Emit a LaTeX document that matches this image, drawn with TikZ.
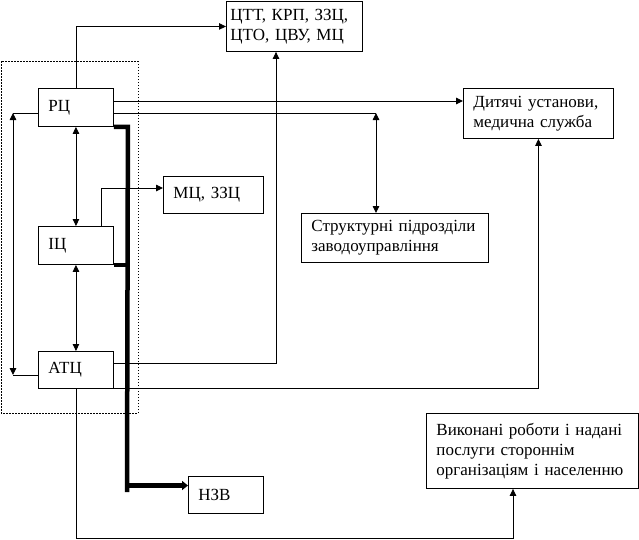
\documentclass[tikz,border=0pt]{standalone}
\usepackage{fontspec}
\setmainfont{Liberation Serif}
\usetikzlibrary{arrows.meta,calc}
\begin{document}
\begin{tikzpicture}[x=1pt,y=-1pt,
  bx/.style={draw,line width=0.9pt,rectangle,anchor=north west,align=left,inner ysep=0pt,inner xsep=10pt,
    font=\fontsize{17}{20}\selectfont},
  ln/.style={line width=0.9pt},
  arr/.style={ln,-{Triangle[length=7pt,width=6.5pt]}},
  darr/.style={ln,{Triangle[length=7pt,width=6.5pt]}-{Triangle[length=7pt,width=6.5pt]}},
  heavy/.style={line width=4.5pt},
  grp/.style={line width=0.8pt,dash pattern=on 1.5pt off 1.5pt}]
\useasboundingbox (0,0) rectangle (639,539);
% group
\draw[grp] (1,61) rectangle (138,413);
% boxes
\node[bx,inner xsep=4pt,minimum width=136pt,minimum height=50pt,text width=128pt] (ctt) at (226,1) {ЦТТ, КРП, ЗЗЦ,\\ЦТО, ЦВУ, МЦ};
\node[bx,minimum width=75pt,minimum height=38pt,text width=55pt] (rc) at (38,88) {РЦ};
\node[bx,minimum width=75pt,minimum height=38pt,text width=55pt] (ic) at (38,226) {ІЦ};
\node[bx,minimum width=75pt,minimum height=37pt,text width=55pt] (atc) at (38,351) {АТЦ};
\node[bx,minimum width=100pt,minimum height=37pt,text width=80pt] (mc) at (163,176) {МЦ, ЗЗЦ};
\node[bx,minimum width=187pt,minimum height=49pt,text width=167pt] (str) at (301,213) {Структурні підрозділи\\заводоуправління};
\node[bx,minimum width=150pt,minimum height=50pt,text width=130pt] (dyt) at (463,88) {Дитячі установи,\\медична служба};
\node[bx,minimum width=212pt,minimum height=75pt,text width=192pt] (vyk) at (426,413) {Виконані роботи і надані\\послуги стороннім\\організаціям і населенню};
\node[bx,minimum width=75pt,minimum height=37pt,text width=55pt] (nzv) at (188,476) {НЗВ};
% helper coordinates
\coordinate (rcA) at ($(rc.north east)+(0,13)$);
\coordinate (rcB) at ($(rc.north east)+(0,25)$);
\coordinate (rcL) at ($(rc.north west)+(0,25)$);
\coordinate (strT) at ($(str.north west)+(75,0)$);
\coordinate (strC) at (strT |- rcB);
\coordinate (lpT) at (13,113);
\coordinate (lpB) at (13,375);
\coordinate (atcL) at (atc.west |- lpB);
\coordinate (icT) at ($(ic.north east)+(-12,0)$);
\coordinate (mcA) at (icT |- 0,188);
\coordinate (atcA) at ($(atc.north east)+(0,12)$);
\coordinate (cttB) at ($(ctt.south west)+(50,0)$);
\coordinate (low) at ($(atc.south)+(0,150)$);
\coordinate (vykB) at ($(vyk.south west)+(87,0)$);
\coordinate (hvA) at ($(rc.south east)+(14,0)$);
\coordinate (hvB) at (127,492);
\coordinate (hvC) at (127,485.5);
\coordinate (hvI) at ($(ic.south east)+(14,0)$);
% connectors
\draw[arr] (rc.north) |- (ctt.west);
\draw[arr] (rcA) -- (rcA -| dyt.west);
\draw[ln] (rcB) -- (strC);
\draw[darr] (strC) -- (strT);
\draw[darr] (rc.south) -- (ic.north);
\draw[darr] (ic.south) -- (atc.north);
\draw[ln] (rcL) -- (lpT);
\draw[ln] (atcL) -- (lpB);
\draw[darr] (lpT) -- (lpB);
\draw[ln] (icT) -- (mcA);
\draw[arr] (mcA) -- (mcA -| mc.west);
\draw[arr] (atcA) -| (cttB);
\draw[arr] (atc.south east) -| (dyt.south);
\draw[arr] (atc.south) |- (low -| vykB) -- (vykB);
% heavy line
\draw[heavy] (rc.south east) -- (hvA) -- (hvB);
\draw[heavy] (ic.south east) -- (hvI);
\draw[heavy,-{Triangle[length=6pt,width=9pt]}] (hvC) -- (hvC -| nzv.west);
\end{tikzpicture}
\end{document}
